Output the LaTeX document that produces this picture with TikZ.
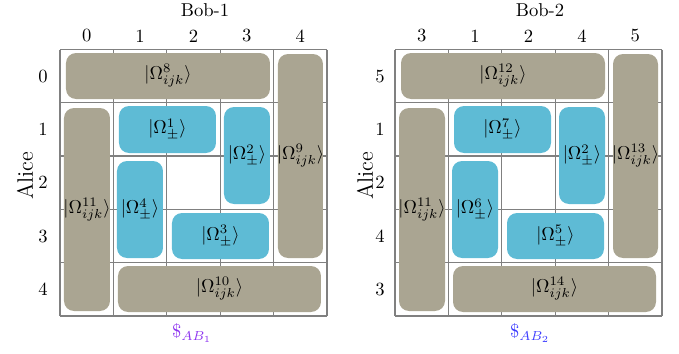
\documentclass[tikz,border=0pt]{standalone}
\usetikzlibrary{fit}
\definecolor{boxgray}{RGB}{170,165,146}
\definecolor{boxblue}{RGB}{94,187,213}
\definecolor{gridgray}{RGB}{128,128,128}
\definecolor{labviolet}{RGB}{140,50,240}
\definecolor{labblue}{RGB}{60,60,255}
\begin{document}
\begin{tikzpicture}[x=0.5376pt,y=-0.5376pt,
  gridline/.style={draw=gridgray, line width=0.7pt},
  graybox/.style={fill=boxgray, rounded corners=5.4pt, inner sep=0pt},
  bluebox/.style={fill=boxblue, rounded corners=5.4pt, inner sep=0pt},
  lbl/.style={inner sep=0pt},
  ttl/.style={inner sep=0pt, font=\large, rotate=90}]
\useasboundingbox (0,0) rectangle (679,354);
% ---------------- panel 1 ----------------
\begin{scope}
\foreach \x in {60,113.4,166.8,220.2,273.6,327} \draw[gridline] (\x,49.5) -- (\x,316);
\foreach \y in {49.5,102.8,156.1,209.4,262.7,316} \draw[gridline] (60,\y) -- (327,\y);
\node[graybox, fit={(66,53) (270,99)}] (b8) {};
\node[graybox, fit={(278,54) (323,258)}] (b9) {};
\node[graybox, fit={(64,108) (110,311)}] (b11) {};
\node[graybox, fit={(118,266) (321,312)}] (b10) {};
\node[bluebox, fit={(119,106) (216,153)}] (b1) {};
\node[bluebox, fit={(224,107) (270,204)}] (b2) {};
\node[bluebox, fit={(117,161) (163,258)}] (b4) {};
\node[bluebox, fit={(172,213) (269,259)}] (b3) {};
\node[lbl] (t8) at (b8.center) {$|\Omega^{8}_{ijk}\rangle$};
\node[lbl] (t9) at (b9.center) {$|\Omega^{9}_{ijk}\rangle$};
\node[lbl] (t11) at (b11.center) {$|\Omega^{11}_{ijk}\rangle$};
\node[lbl] (t10) at (b10.center) {$|\Omega^{10}_{ijk}\rangle$};
\node[lbl] (t1) at (b1.center) {$|\Omega^{1}_{\pm}\rangle$};
\node[lbl] (t2) at (b2.center) {$|\Omega^{2}_{\pm}\rangle$};
\node[lbl] (t4) at (b4.center) {$|\Omega^{4}_{\pm}\rangle$};
\node[lbl] (t3) at (b3.center) {$|\Omega^{3}_{\pm}\rangle$};
\node[lbl] (c0) at (86.7,36) {0};
\node[lbl] (c1) at (140.1,36) {1};
\node[lbl] (c2) at (193.5,36) {2};
\node[lbl] (c3) at (246.9,36) {3};
\node[lbl] (c4) at (300.3,36) {4};
\node[lbl] (r0) at (43,76.2) {0};
\node[lbl] (r1) at (43,129.5) {1};
\node[lbl] (r2) at (43,182.8) {2};
\node[lbl] (r3) at (43,236.1) {3};
\node[lbl] (r4) at (43,289.4) {4};
\node[lbl] (bob) at (205,10) {Bob-1};
\node[ttl] (alice) at (25,176) {Alice};
\node[lbl, text=labviolet] (pay) at (192,333) {$\$_{AB_1}$};
\end{scope}
% ---------------- panel 2 ----------------
\begin{scope}[xshift=180.1pt, name prefix=R-]
\foreach \x in {60,113.4,166.8,220.2,273.6,327} \draw[gridline] (\x,49.5) -- (\x,316);
\foreach \y in {49.5,102.8,156.1,209.4,262.7,316} \draw[gridline] (60,\y) -- (327,\y);
\node[graybox, fit={(66,53) (270,99)}] (b12) {};
\node[graybox, fit={(278,54) (323,258)}] (b13) {};
\node[graybox, fit={(64,108) (110,311)}] (b11) {};
\node[graybox, fit={(118,266) (321,312)}] (b14) {};
\node[bluebox, fit={(119,106) (216,153)}] (b7) {};
\node[bluebox, fit={(224,107) (270,204)}] (b2) {};
\node[bluebox, fit={(117,161) (163,258)}] (b6) {};
\node[bluebox, fit={(172,213) (269,259)}] (b5) {};
\node[lbl] (t12) at (b12.center) {$|\Omega^{12}_{ijk}\rangle$};
\node[lbl] (t13) at (b13.center) {$|\Omega^{13}_{ijk}\rangle$};
\node[lbl] (t11) at (b11.center) {$|\Omega^{11}_{ijk}\rangle$};
\node[lbl] (t14) at (b14.center) {$|\Omega^{14}_{ijk}\rangle$};
\node[lbl] (t7) at (b7.center) {$|\Omega^{7}_{\pm}\rangle$};
\node[lbl] (t2) at (b2.center) {$|\Omega^{2}_{\pm}\rangle$};
\node[lbl] (t6) at (b6.center) {$|\Omega^{6}_{\pm}\rangle$};
\node[lbl] (t5) at (b5.center) {$|\Omega^{5}_{\pm}\rangle$};
\node[lbl] (c0) at (86.7,36) {3};
\node[lbl] (c1) at (140.1,36) {1};
\node[lbl] (c2) at (193.5,36) {2};
\node[lbl] (c3) at (246.9,36) {4};
\node[lbl] (c4) at (300.3,36) {5};
\node[lbl] (r0) at (45,76.2) {5};
\node[lbl] (r1) at (45,129.5) {1};
\node[lbl] (r2) at (45,182.8) {2};
\node[lbl] (r3) at (45,236.1) {4};
\node[lbl] (r4) at (45,289.4) {3};
\node[lbl] (bob) at (205,10) {Bob-2};
\node[ttl] (alice) at (30,176) {Alice};
\node[lbl, text=labblue] (pay) at (195,333) {$\$_{AB_2}$};
\end{scope}
\end{tikzpicture}
\end{document}
